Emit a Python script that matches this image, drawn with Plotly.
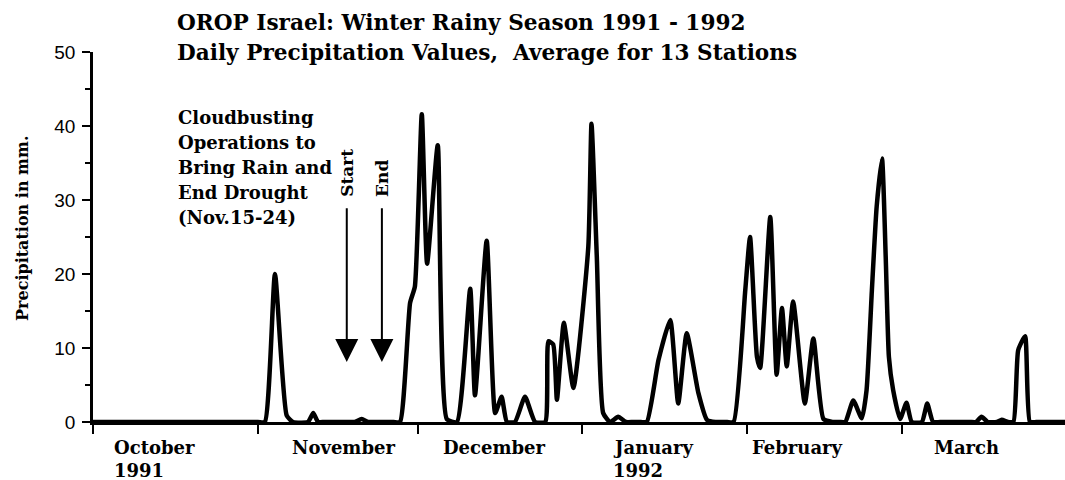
import plotly.graph_objects as go

# Day index: 0 = 1 October 1991
day = [0, 31.0, 32.3, 34.2, 36.4, 37.6, 40.4, 41.4, 42.3, 43.5,
       48.0, 49.2, 50.5, 51.7, 53.0, 56.5, 57.7, 59.6, 60.5, 61.8,
       62.8, 64.8, 66.5, 68.4, 70.9, 71.8, 74.0, 75.6, 76.8, 77.8,
       79.3, 81.2, 83.1, 85.0, 85.6, 86.5, 87.2, 88.5, 90.3, 93.1,
       93.7, 94.7, 95.9, 97.2, 98.7, 100.2, 101.5, 103.0, 104.1, 106.3,
       108.5, 110.0, 111.6, 113.8, 115.4, 117.0, 119.2, 120.4, 122.6, 123.5,
       124.8, 125.4, 127.3, 128.5, 129.5, 130.4, 131.6, 133.8, 135.4, 137.3,
       139.0, 140.3, 141.4, 142.9, 144.5, 145.4, 146.4, 147.3, 148.3, 149.0,
       149.6, 150.4, 151.7, 152.9, 153.9, 155.8, 156.8, 157.9, 159.2, 164.8,
       166.0, 167.0, 168.2, 169.9, 170.8, 172.0, 173.0, 173.9, 175.2, 176.1,
       177.3, 181.0, 182.7]
precip = [0, 0, 0, 20.0, 0.9, 0, 0, 1.2, 0, 0,
          0, 0, 0.4, 0, 0, 0, 0, 16.1, 18.3, 41.6,
          21.4, 37.4, 0.4, 0, 18.0, 3.6, 24.5, 1.2, 3.4, 0,
          0, 3.4, 0, 0, 10.9, 10.5, 3.0, 13.4, 4.6, 23.7,
          40.3, 22.3, 1.2, 0, 0.7, 0, 0, 0, 0, 8.4,
          13.8, 2.5, 12.0, 3.9, 0.3, 0, 0, 0, 17.8, 25.0,
          8.8, 7.3, 27.7, 6.4, 15.4, 7.5, 16.3, 2.5, 11.3, 0.4,
          0, 0, 0, 2.9, 0.5, 4.3, 17.8, 29.1, 35.6, 22.3,
          8.8, 4.3, 0.4, 2.6, 0, 0, 2.5, 0, 0, 0,
          0, 0.7, 0, 0, 0.3, 0, 0, 9.7, 11.6, 0,
          0, 0, 0]
assert len(day) == len(precip)

month_start = [0, 31, 61, 92, 123, 152]
month_names = ["October", "November", "December", "January", "February", "March"]
month_years = ["1991", "", "", "1992", "", ""]
month_label_day = [3.6, 37.0, 65.4, 97.4, 123.5, 157.7]

y_ticks = [0, 10, 20, 30, 40, 50]
y_minor = [5, 15, 25, 35, 45]

ops_start_day, ops_end_day = 47.7, 54.3

title_lines = ["OROP Israel: Winter Rainy Season 1991 - 1992",
               "Daily Precipitation Values,\u00a0 Average for 13 Stations"]
note_lines = ["Cloudbusting", "Operations to", "Bring Rain and", "End Drought", "(Nov.15-24)"]

# plot area in pixels (for placing free text)
L, T, W, H = 93, 52, 972, 370
def pxx(x):
    return (x - L) / W
def pxy(y):
    return (T + H - y) / H

SERIF = "DejaVu Serif"

fig = go.Figure()
fig.add_trace(go.Scatter(x=day, y=precip, mode="lines",
                         line=dict(color="black", width=4.5, shape="spline", smoothing=0.5),
                         hoverinfo="skip"))

ann = []
for i, t in enumerate(title_lines):
    ann.append(dict(xref="paper", yref="paper", x=pxx(175), y=pxy(23 + 30 * i),
                    xanchor="left", yanchor="middle", text="<b>%s</b>" % t, showarrow=False,
                    font=dict(family=SERIF, size=21.6, color="black")))
ann.append(dict(xref="paper", yref="paper", x=pxx(22), y=pxy(228), xanchor="center", yanchor="middle",
                text="<b>Precipitation in mm.</b>", textangle=-90, showarrow=False,
                font=dict(family=SERIF, size=16, color="black")))
for i, t in enumerate(note_lines):
    ann.append(dict(xref="paper", yref="paper", x=pxx(176), y=pxy(118 + 24.8 * i),
                    xanchor="left", yanchor="middle", text="<b>%s</b>" % t, showarrow=False,
                    font=dict(family=SERIF, size=18, color="black")))
for d, lab, yy in [(ops_start_day, "Start", 173), (ops_end_day, "End", 178)]:
    ann.append(dict(xref="x", yref="paper", x=d, y=pxy(yy), xanchor="center", yanchor="middle",
                    text="<b>%s</b>" % lab, textangle=-90, showarrow=False,
                    font=dict(family=SERIF, size=17, color="black")))
    ann.append(dict(xref="x", yref="y", x=d, y=8.1, axref="x", ayref="y", ax=d, ay=29.1,
                    text="", showarrow=True, arrowhead=2, arrowsize=2.3, arrowwidth=2,
                    arrowcolor="black", standoff=0))
for d, name, yr in zip(month_label_day, month_names, month_years):
    for j, t in enumerate([name, yr]):
        if t:
            ann.append(dict(xref="x", yref="paper", x=d, y=pxy(447 + 23 * j),
                            xanchor="left", yanchor="middle", text="<b>%s</b>" % t,
                            showarrow=False, font=dict(family=SERIF, size=18, color="black")))

fig.update_layout(
    width=1065, height=480,
    margin=dict(l=L, r=1065 - L - W, t=T, b=480 - T - H),
    plot_bgcolor="white", paper_bgcolor="white", showlegend=False,
    annotations=ann,
    xaxis=dict(range=[0, 182.7], tickmode="array", tickvals=month_start, ticks="outside",
               ticklen=9, tickwidth=2, tickcolor="black", showticklabels=False,
               showline=True, linecolor="black", linewidth=2.5, showgrid=False, zeroline=False),
    yaxis=dict(range=[0, 50], tickmode="array", tickvals=y_ticks, ticks="outside",
               ticklen=8, tickwidth=2, tickcolor="black", ticklabelstandoff=3,
               tickfont=dict(family="Liberation Sans", size=19, color="black"),
               minor=dict(tickmode="array", tickvals=y_minor, ticks="outside", ticklen=5,
                          tickwidth=2, tickcolor="black", showgrid=False),
               showline=True, linecolor="black", linewidth=2.5, showgrid=False, zeroline=False),
)

fig.write_html("out.html", config={"displayModeBar": False},
               post_script="document.body.style.margin='0';document.body.style.overflow='hidden';")
